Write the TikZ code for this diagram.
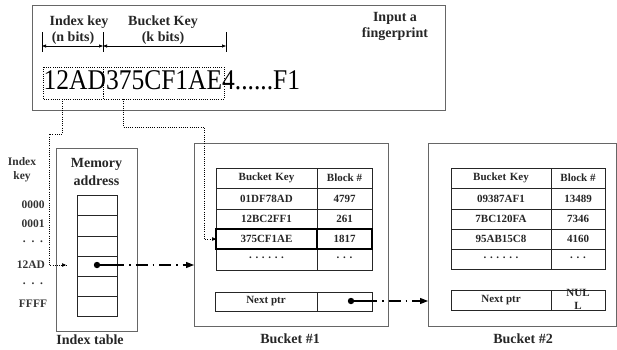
\documentclass[tikz,border=0pt]{standalone}
\usepackage{fontspec}
\setmainfont{Liberation Serif}
\usetikzlibrary{arrows.meta,calc}
\begin{document}
\begin{tikzpicture}[x=1pt,y=-1pt,
  box/.style={draw=black!60,line width=1pt},
  cell/.style={draw=black!85,line width=0.7pt},
  lbl/.style={font=\fontsize{14}{16}\selectfont\bfseries,inner sep=0pt,text=black!85},
  tl/.style={font=\fontsize{11}{12}\selectfont\bfseries,inner sep=0pt,text=black!85},
  kl/.style={font=\fontsize{11.5}{14}\selectfont\bfseries,inner sep=0pt,text=black!80},
  dotl/.style={dash pattern=on 0.6pt off 1.6pt,line width=0.6pt},
  dashdot/.style={line width=1.1pt,dash pattern=on 12pt off 5pt on 1.5pt off 5pt},
  bigtip/.style={-{Triangle[length=8pt,width=6pt]}},
  smalltip/.style={-{Triangle[length=4pt,width=3.5pt]}},
  dimtip/.style={{Triangle[length=4pt,width=3pt]}-{Triangle[length=4pt,width=3pt]}},
]
\useasboundingbox (0,0) rectangle (617,349);

% ---------- input fingerprint box ----------
\draw[box] (32,5) rectangle (445,110);
\node[lbl] (ikh) at (79,22) {Index key};
\node[lbl] (ikb) at (73,38) {(n bits)};
\node[lbl] (bkh) at (163,22) {Bucket Key};
\node[lbl] (bkb) at (163,38) {(k bits)};
\node[lbl,align=center,font=\fontsize{14}{16}\selectfont\bfseries] (inp) at (395,26) {Input a\\fingerprint};
\coordinate (t1) at (42,46); \coordinate (t2) at (103,46); \coordinate (t3) at (226,46);
\draw[line width=0.7pt] (42,32) -- (42,52) (103,32) -- (103,52) (226,32) -- (226,52);
\draw[line width=0.7pt,dimtip] (t1) -- (t2);
\draw[line width=0.7pt,dimtip] (t2) -- (t3);
\node[anchor=base west,inner sep=0pt,font=\fontsize{25.5}{26}\selectfont] (fp) at (43.5,89) {\scalebox{1}[1.12]{12AD375CF1AE4......F1}};
\draw[dotl] (43,67) rectangle (103,99);
\draw[dotl] (103,67) rectangle (224,99);

% ---------- index key labels ----------
\node[kl,align=center] (ik) at (22,170) {Index\\key};
\node[kl] (k0) at (33,205) {0000};
\node[kl] (k1) at (33,224) {0001};
\node[kl] (k2) at (33,242) {.\ \ .\ \ .};
\node[kl] (k3) at (31,265) {12AD};
\node[kl] (k4) at (33,284) {.\ \ .\ \ .};
\node[kl] (k5) at (33,304) {FFFF};

% ---------- index table ----------
\draw[box] (56,148) rectangle (137,331);
\node[lbl,align=center,font=\fontsize{14}{18}\selectfont\bfseries] (mem) at (96.5,172) {Memory\\address};
\foreach \ya/\yb in {195/215,215/236,236/256,256/276,276/296,296/316}
  \draw[cell] (77,\ya) rectangle (117,\yb);
\node[lbl] (itl) at (90,340) {Index table};

% ---------- bucket #1 ----------
\draw[box] (194,143) rectangle (388,326);
\foreach \ya/\yb in {168/188,188/209,209/229,249/270}{
  \draw[cell] (216,\ya) rectangle (317,\yb);
  \draw[cell] (317,\ya) rectangle (372,\yb);}
\draw[line width=1.5pt] (216,229) rectangle (372,249);
\draw[line width=1.2pt] (317,229) -- (317,249);
\node[tl] (b1h1) at (266.5,178) {Bucket\,\,Key};
\node[tl] (b1h2) at (344.5,178) {Block \#};
\node[tl] (b1r1a) at (266.5,198.5) {01DF78AD};
\node[tl] (b1r1b) at (344.5,198.5) {4797};
\node[tl] (b1r2a) at (266.5,219) {12BC2FF1};
\node[tl] (b1r2b) at (344.5,219) {261};
\node[tl] (b1r3a) at (266.5,239) {375CF1AE};
\node[tl] (b1r3b) at (344.5,239) {1817};
\node[tl] (b1r4a) at (266.5,258) {. . . . . .};
\node[tl] (b1r4b) at (344.5,258) {. . .};
\draw[cell] (215,292) rectangle (317,311);
\draw[cell] (317,292) rectangle (372,311);
\node[tl] (b1np) at (266,301.5) {Next ptr};
\node[lbl] (b1l) at (290,339) {Bucket \#1};

% ---------- bucket #2 ----------
\draw[box] (428,143) rectangle (616,326);
\foreach \ya/\yb in {168/188,188/209,209/229,229/249,249/269}{
  \draw[cell] (451,\ya) rectangle (551,\yb);
  \draw[cell] (551,\ya) rectangle (605,\yb);}
\node[tl] (b2h1) at (501,178) {Bucket\,\,Key};
\node[tl] (b2h2) at (578,178) {Block \#};
\node[tl] (b2r1a) at (501,198.5) {09387AF1};
\node[tl] (b2r1b) at (578,198.5) {13489};
\node[tl] (b2r2a) at (501,219) {7BC120FA};
\node[tl] (b2r2b) at (578,219) {7346};
\node[tl] (b2r3a) at (501,239) {95AB15C8};
\node[tl] (b2r3b) at (578,239) {4160};
\node[tl] (b2r4a) at (501,258) {. . . . . .};
\node[tl] (b2r4b) at (578,258) {. . .};
\draw[cell] (451,290) rectangle (551,310);
\draw[cell] (551,290) rectangle (605,310);
\node[tl] (b2np) at (501,300.5) {Next ptr};
\node[tl,align=center,font=\fontsize{11}{13}\selectfont\bfseries] (b2nul) at (578,299) {NUL\\L};
\node[lbl] (b2l) at (523,339) {Bucket \#2};

% ---------- connectors ----------
\coordinate (c1s) at (62,99); \coordinate (c1a) at (62,134);
\coordinate (c1b) at (49,134); \coordinate (c1c) at (49,265);
\coordinate (c1e) at (66,265);
\draw[dotl] (c1s) -- (c1a) -- (c1b) -- (c1c) -- (c1e);
\draw[smalltip,line width=0.6pt] ($(c1e)+(-1,0)$) -- (c1e);

\coordinate (c2s) at (123,99); \coordinate (c2a) at (123,127);
\coordinate (c2b) at (204,127); \coordinate (c2c) at (204,239);
\coordinate (c2e) at (216,239);
\draw[dotl] (c2s) -- (c2a) -- (c2b) -- (c2c) -- (c2e);
\draw[smalltip,line width=0.6pt] ($(c2e)+(-1,0)$) -- (c2e);

\coordinate (d1) at (97,265); \coordinate (d1m) at (112,265); \coordinate (d1e) at (194,265);
\fill (d1) circle (3.2);
\draw[line width=1.1pt] (d1) -- (d1m);
\draw[dashdot,bigtip] (d1m) -- (d1e);

\coordinate (d2) at (351,301); \coordinate (d2m) at (365,301); \coordinate (d2e) at (428,301);
\fill (d2) circle (3.2);
\draw[line width=1.1pt] (d2) -- (d2m);
\draw[dashdot,bigtip] (d2m) -- (d2e);
\end{tikzpicture}
\end{document}
